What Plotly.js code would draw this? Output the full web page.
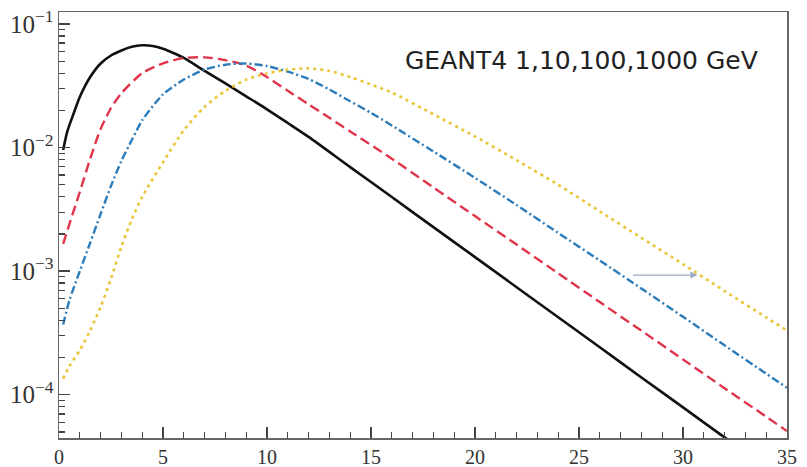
<!DOCTYPE html>
<html>
<head>
<meta charset="utf-8">
<script src="https://cdn.plot.ly/plotly-3.0.1.min.js"></script>
<style>html,body{margin:0;padding:0;background:#fff;}#chart{width:807px;height:467px;}</style>
</head>
<body>
<div id="chart"></div>
<script>
// Depth (x) values and read-off values for each energy curve
const xBlack = [0.2, 0.4, 0.7, 1, 1.5, 2, 2.5, 3, 3.5, 4, 4.5, 5, 5.5, 6, 7, 8, 9, 10, 11, 12, 14, 16, 18, 20, 22, 24, 26, 28, 30, 32, 32.3];
const yBlack = [0.00955, 0.0135, 0.0188, 0.0257, 0.0372, 0.0479, 0.0556, 0.061, 0.0653, 0.0672, 0.0664, 0.0631, 0.0582, 0.0531, 0.0417, 0.0331, 0.026, 0.0204, 0.0158, 0.0122, 0.00695, 0.00398, 0.00227, 0.0013, 0.000741, 0.000424, 0.000242, 0.000138, 0.0000791, 0.0000452, 0.000042];

const xRed = [0.2, 0.5, 1, 1.5, 2, 2.5, 3, 4, 5, 6, 7, 8, 9, 10, 11, 12, 13, 14, 16, 18, 20, 22, 24, 26, 28, 30, 32, 34, 35];
const yRed = [0.00166, 0.0024, 0.00437, 0.00813, 0.0141, 0.0209, 0.0275, 0.040, 0.048, 0.053, 0.0537, 0.051, 0.046, 0.0372, 0.0288, 0.0224, 0.0174, 0.0135, 0.00813, 0.00476, 0.00279, 0.00164, 0.00096, 0.000562, 0.00033, 0.000193, 0.000113, 0.0000664, 0.0000508];

const xBlue = [0.2, 0.5, 1, 1.5, 2, 2.5, 3, 3.5, 4, 5, 6, 7, 8, 9, 10, 11, 12, 13, 14, 15, 16, 18, 20, 22, 24, 26, 28, 30, 32, 34, 35];
const yBlue = [0.00037, 0.00058, 0.0010, 0.0017, 0.0029, 0.0049, 0.0078, 0.0115, 0.0166, 0.0269, 0.0355, 0.0427, 0.0468, 0.0479, 0.0457, 0.0412, 0.0359, 0.0295, 0.0237, 0.0191, 0.0151, 0.0093, 0.00569, 0.00343, 0.00204, 0.00122, 0.000724, 0.000427, 0.000251, 0.000148, 0.000114];

const xYellow = [0.2, 0.5, 1, 1.5, 2, 2.5, 3, 3.5, 4, 5, 6, 7, 8, 9, 10, 11, 12, 13, 14, 15, 16, 18, 20, 22, 24, 26, 28, 30, 32, 34, 35];
const yYellow = [0.000135, 0.00017, 0.000229, 0.000331, 0.000513, 0.00087, 0.00158, 0.00263, 0.0040, 0.0076, 0.0138, 0.0214, 0.0288, 0.0355, 0.0398, 0.0427, 0.0437, 0.0417, 0.0372, 0.0324, 0.0279, 0.0186, 0.0123, 0.0079, 0.0050, 0.00305, 0.00186, 0.00114, 0.00069, 0.000422, 0.000331];

const labelText = "GEANT4 1,10,100,1000 GeV";
// arrow from blue curve to yellow curve (x values, y value)
const arrowFromX = 27.45, arrowToX = 30.7, arrowY = 0.00093;

const serif = "Liberation Serif, Times New Roman, serif";

const traces = [
  {x: xBlack, y: yBlack, mode: 'lines', line: {color: '#111111', width: 2.6, shape: 'spline', smoothing: 0.7}},
  {x: xRed, y: yRed, mode: 'lines', line: {color: '#e0344b', width: 2.4, dash: '10px,5px', shape: 'spline', smoothing: 0.7}},
  {x: xBlue, y: yBlue, mode: 'lines', line: {color: '#2b7cba', width: 2.4, dash: '8px,3px,2px,3px', shape: 'spline', smoothing: 0.7}},
  {x: xYellow, y: yYellow, mode: 'lines', line: {color: '#e9c434', width: 2.6, dash: '3px,4px', shape: 'spline', smoothing: 0.7}}
];

const layout = {
  width: 807, height: 467,
  margin: {l: 59, r: 20, t: 12, b: 29},
  paper_bgcolor: '#fff', plot_bgcolor: '#fff',
  showlegend: false,
  xaxis: {
    range: [0, 35], showgrid: false, zeroline: false,
    showline: true, mirror: true, linecolor: '#666', linewidth: 1.5,
    tickmode: 'linear', tick0: 0, dtick: 5,
    ticks: 'inside', ticklen: 11, tickwidth: 1.5, tickcolor: '#444',
    minor: {dtick: 1, ticks: 'inside', ticklen: 6, tickwidth: 1.3, tickcolor: '#444', showgrid: false},
    tickfont: {family: serif, size: 20, color: '#333'}
  },
  yaxis: {
    type: 'log', range: [-4.35, -0.903], showgrid: false, zeroline: false,
    showline: true, mirror: true, linecolor: '#666', linewidth: 1.5,
    dtick: 1, exponentformat: 'power',
    ticks: 'inside', ticklen: 11, tickwidth: 1.5, tickcolor: '#444',
    minor: {dtick: 'D1', ticks: 'inside', ticklen: 6, tickwidth: 1.3, tickcolor: '#444', showgrid: false},
    tickfont: {family: serif, size: 20, color: '#333'}
  },
  annotations: [
    {xref: 'paper', yref: 'paper', x: 0.718, y: 0.885, xanchor: 'center', yanchor: 'middle',
     text: labelText, showarrow: false,
     font: {family: 'DejaVu Sans, sans-serif', size: 25, color: '#222'}},
    {xref: 'x', yref: 'y', axref: 'x', ayref: 'y',
     x: arrowToX, y: Math.log10(arrowY), ax: arrowFromX, ay: Math.log10(arrowY),
     text: ' ', showarrow: true, arrowhead: 2, arrowsize: 1.2, arrowwidth: 1.2, arrowcolor: '#9aabc2'}
  ]
};

Plotly.newPlot('chart', traces, layout, {displayModeBar: false, staticPlot: true});
</script>
</body>
</html>
